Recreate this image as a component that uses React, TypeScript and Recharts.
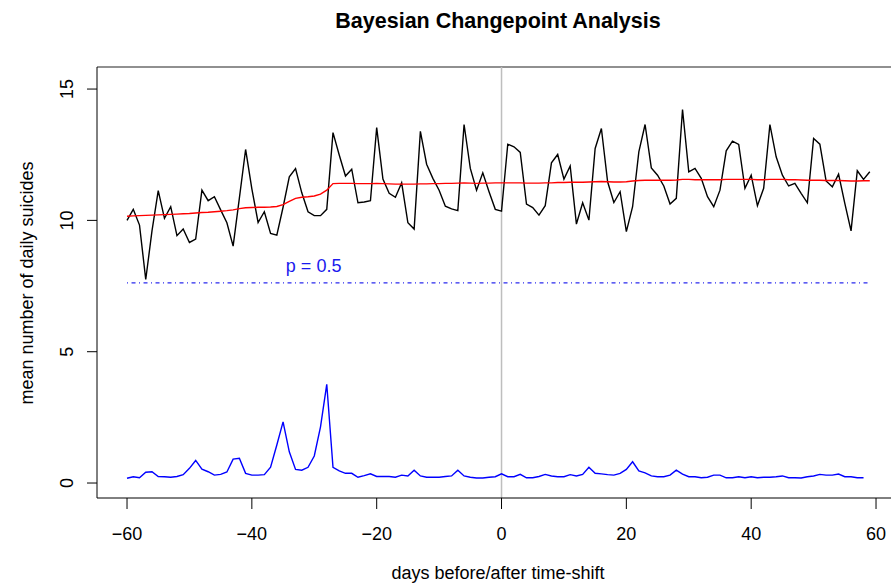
import React from "react";
import {
  ComposedChart, Line, XAxis, YAxis, ReferenceLine, ReferenceDot,
} from "recharts";

// day offsets relative to the time-shift
const days = Array.from({ length: 120 }, (_, i) => i - 60);

// observed daily suicides (black)
const observed = [
  10.0, 10.42, 9.82, 7.75, 9.6, 11.13, 10.08, 10.52, 9.42, 9.67,
  9.16, 9.29, 11.15, 10.75, 10.9, 10.4, 9.91, 9.02, 10.85, 12.7,
  11.2, 9.92, 10.33, 9.5, 9.44, 10.5, 11.66, 11.97, 11.05, 10.33,
  10.18, 10.18, 10.42, 13.34, 12.49, 11.69, 11.95, 10.67, 10.7, 10.75,
  13.53, 11.57, 11.03, 10.88, 11.43, 9.91, 9.67, 13.39, 12.14, 11.6,
  11.15, 10.54, 10.44, 10.37, 13.65, 11.98, 11.15, 11.81, 11.09, 10.42,
  10.35, 12.9, 12.8, 12.59, 10.62, 10.49, 10.2, 10.56, 12.19, 12.51,
  11.57, 12.07, 9.86, 10.67, 10.01, 12.74, 13.5, 11.47, 10.68, 11.09,
  9.57, 10.52, 12.61, 13.65, 12.0, 11.72, 11.31, 10.62, 10.84, 14.22,
  11.85, 11.98, 11.6, 10.9, 10.52, 11.15, 12.65, 13.02, 12.89, 11.22,
  11.72, 10.56, 11.22, 13.65, 12.42, 11.72, 11.31, 11.41, 11.03, 10.67,
  13.12, 12.9, 11.5, 11.28, 11.76, 10.65, 9.6, 11.89, 11.56, 11.85,
];

// posterior mean (red)
const posteriorMean = [
  10.16, 10.17, 10.18, 10.19, 10.2, 10.21, 10.22, 10.23, 10.24, 10.25,
  10.26, 10.28, 10.3, 10.31, 10.33, 10.35, 10.37, 10.4, 10.45, 10.48,
  10.49, 10.5, 10.5, 10.51, 10.53, 10.6, 10.72, 10.84, 10.88, 10.9,
  10.93, 11.0, 11.15, 11.4, 11.41, 11.41, 11.41, 11.4, 11.4, 11.4,
  11.41, 11.4, 11.39, 11.38, 11.38, 11.38, 11.38, 11.39, 11.39, 11.4,
  11.4, 11.41, 11.41, 11.42, 11.43, 11.42, 11.41, 11.42, 11.42, 11.43,
  11.43, 11.43, 11.43, 11.43, 11.42, 11.42, 11.42, 11.43, 11.43, 11.44,
  11.44, 11.45, 11.45, 11.45, 11.46, 11.47, 11.48, 11.47, 11.46, 11.46,
  11.47, 11.5, 11.52, 11.53, 11.53, 11.53, 11.53, 11.53, 11.54, 11.56,
  11.56, 11.55, 11.55, 11.55, 11.55, 11.55, 11.56, 11.56, 11.56, 11.56,
  11.56, 11.55, 11.55, 11.56, 11.56, 11.56, 11.55, 11.55, 11.54, 11.53,
  11.53, 11.53, 11.52, 11.52, 11.52, 11.51, 11.5, 11.5, 11.51, 11.51,
];

// changepoint posterior, scaled (blue); no value on the last day
const changeProb = [
  0.18, 0.24, 0.2, 0.41, 0.43, 0.25, 0.24, 0.22, 0.25, 0.32,
  0.56, 0.86, 0.53, 0.43, 0.3, 0.33, 0.42, 0.91, 0.94, 0.37,
  0.3, 0.3, 0.32, 0.6, 1.45, 2.33, 1.19, 0.52, 0.49, 0.6,
  1.03, 2.14, 3.76, 0.6, 0.46, 0.37, 0.37, 0.22, 0.28, 0.35,
  0.25, 0.25, 0.25, 0.22, 0.3, 0.27, 0.49, 0.27, 0.22, 0.22,
  0.22, 0.25, 0.27, 0.49, 0.27, 0.22, 0.19, 0.19, 0.22, 0.24,
  0.35, 0.24, 0.24, 0.33, 0.2, 0.2, 0.25, 0.33, 0.27, 0.24,
  0.24, 0.32, 0.27, 0.33, 0.6, 0.37, 0.35, 0.32, 0.3, 0.37,
  0.52, 0.81, 0.46, 0.39, 0.27, 0.24, 0.24, 0.3, 0.49, 0.34,
  0.24, 0.24, 0.2, 0.22, 0.3, 0.3, 0.2, 0.2, 0.24, 0.2,
  0.24, 0.2, 0.22, 0.22, 0.24, 0.27, 0.2, 0.2, 0.19, 0.24,
  0.27, 0.33, 0.3, 0.3, 0.34, 0.24, 0.24, 0.2, 0.2, null,
];

const xTicks = [-60, -40, -20, 0, 20, 40, 60];
const yTicks = [0, 5, 10, 15];
const threshold = 7.62; // p = 0.5 level
const thresholdLabel = "p = 0.5";

const FONT = "'Liberation Sans', Arial, Helvetica, sans-serif";
const X_DOMAIN: [number, number] = [-64.81, 62.4];
const Y_DOMAIN: [number, number] = [-0.57, 15.84];

const rows = days.map((d, i) => ({
  day: d,
  observed: observed[i],
  mean: posteriorMean[i],
  prob: changeProb[i],
}));

const fmt = (v: number) => (v < 0 ? `\u2212${Math.abs(v)}` : `${v}`);

const XTick = ({ x, payload }: any) => (
  <text x={x} y={540} textAnchor="middle" fontSize={18} fontFamily={FONT} fill="#000">
    {fmt(payload.value)}
  </text>
);

const YTick = ({ y, payload }: any) => (
  <text
    x={73}
    y={y}
    transform={`rotate(-90, 73, ${y})`}
    textAnchor="middle"
    fontSize={18}
    fontFamily={FONT}
    fill="#000"
  >
    {payload.value}
  </text>
);

export default function App() {
  return (
    <div style={{ position: "absolute", left: 0, top: 0, width: 891, height: 585, background: "#fff" }}>
      <ComposedChart width={891} height={585} data={rows} margin={{ top: 67, right: 0, left: 0, bottom: 0 }}>
        <XAxis
          dataKey="day"
          type="number"
          domain={X_DOMAIN}
          ticks={xTicks}
          allowDataOverflow
          height={87}
          tickSize={11}
          stroke="#000"
          tick={<XTick />}
        />
        <YAxis
          type="number"
          domain={Y_DOMAIN}
          ticks={yTicks}
          allowDataOverflow
          width={97}
          tickSize={10}
          stroke="#000"
          tick={<YTick />}
        />
        <ReferenceLine y={Y_DOMAIN[1]} stroke="#222" strokeWidth={1.2} />
        <ReferenceLine x={0} stroke="#bebebe" strokeWidth={1.5} />
        <ReferenceLine
          segment={[{ x: -60, y: threshold }, { x: 59, y: threshold }]}
          stroke="#2a2aee"
          strokeWidth={1.2}
          strokeDasharray="1 3.5 4 3.5"
        />
        <ReferenceDot
          x={-30.1}
          y={8.28}
          r={0}
          fill="none"
          stroke="none"
          label={{ value: thresholdLabel, position: "center", fill: "#1a1aee", fontSize: 18, fontFamily: FONT }}
        />
        <Line dataKey="observed" stroke="#000" strokeWidth={1.4} dot={false} isAnimationActive={false} />
        <Line dataKey="mean" stroke="#ff0000" strokeWidth={1.4} dot={false} isAnimationActive={false} />
        <Line dataKey="prob" stroke="#0000ff" strokeWidth={1.4} dot={false} isAnimationActive={false} />
      </ComposedChart>
      <svg width={891} height={585} style={{ position: "absolute", left: 0, top: 0, pointerEvents: "none" }}>
        <text x={498} y={28} textAnchor="middle" fontSize={21.5} fontWeight="bold" fontFamily={FONT} fill="#000">
          Bayesian Changepoint Analysis
        </text>
        <text x={498} y={579} textAnchor="middle" fontSize={18} fontFamily={FONT} fill="#000">
          days before/after time-shift
        </text>
        <text
          x={33}
          y={283}
          transform="rotate(-90, 33, 283)"
          textAnchor="middle"
          fontSize={18}
          fontFamily={FONT}
          fill="#000"
        >
          mean number of daily suicides
        </text>
      </svg>
    </div>
  );
}
